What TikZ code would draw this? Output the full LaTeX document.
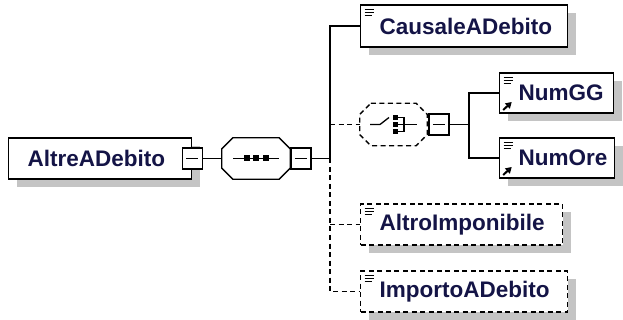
\documentclass[tikz,border=0pt]{standalone}
\usepackage{fontspec}
\setmainfont{Liberation Sans}
\usepackage{tikz}
\usetikzlibrary{calc,arrows.meta,positioning,shadows}
\definecolor{navyx}{HTML}{141446}
\definecolor{shadowx}{HTML}{C4C4C4}
\newcommand{\docicon}{\foreach \d/\l in {4pt/9pt,7pt/9pt,10pt/7pt}{\draw[solid,line width=0.9pt] ([xshift=4pt,yshift=-\d]path picture bounding box.north west) -- ++(\l,0);}}
\newcommand{\refarrow}{\draw[solid,line width=2pt,-{Triangle[length=6pt,width=7pt]}] ([xshift=3.5pt,yshift=3pt]path picture bounding box.south west) -- ++(8.5pt,8pt);}
% octagon round a named node: #1 draw options, #2 node
\newcommand{\octo}[2][]{%
  \fill[shadowx,shift={(8,8)}] ($(#2.north west)+(11,0)$) -- ($(#2.north east)+(-11,0)$) -- ($(#2.north east)+(0,11)$) -- ($(#2.south east)+(0,-11)$) -- ($(#2.south east)+(-11,0)$) -- ($(#2.south west)+(11,0)$) -- ($(#2.south west)+(0,-11)$) -- ($(#2.north west)+(0,11)$) -- cycle;
  \draw[fill=white,line width=1.3pt,#1] ($(#2.north west)+(11,0)$) -- ($(#2.north east)+(-11,0)$) -- ($(#2.north east)+(0,11)$) -- ($(#2.south east)+(0,-11)$) -- ($(#2.south east)+(-11,0)$) -- ($(#2.south west)+(11,0)$) -- ($(#2.south west)+(0,-11)$) -- ($(#2.north west)+(0,11)$) -- cycle;}
\tikzset{
  con/.style={line width=1.3pt},
  dsh/.style={line width=1.3pt,dash pattern=on 5pt off 3.5pt},
  shd/.style={drop shadow={shadow xshift=8pt,shadow yshift=-8pt,fill=shadowx,opacity=1}},
  box/.style={draw,line width=1.4pt,fill=white,shd,anchor=west,minimum height=41pt,inner xsep=0pt,inner ysep=0pt,
    align=left,text=navyx,font=\fontsize{22.5}{27}\selectfont\bfseries,execute at begin node={\hspace*{19pt}}},
  elem/.style={box,path picture={\docicon}},
  refelem/.style={box,path picture={\docicon\refarrow}},
  minus/.style={draw,line width=1.3pt,fill=white,minimum width=20pt,minimum height=21pt,inner sep=0pt,
    path picture={\draw[solid,line width=1.3pt] ([xshift=4pt]path picture bounding box.west) -- ([xshift=-4pt]path picture bounding box.east);}},
  comp/.style={rectangle,minimum width=68pt,minimum height=41pt,inner sep=0pt}
}

\begin{document}
\begin{tikzpicture}[x=1pt,y=-1pt]
\useasboundingbox (0,0) rectangle (623,320);
% root and sequence
\node[box,text width=183pt] (altre) at (8,158.5) {AltreADebito};
\node[minus] (m1) at (altre.east) {};
\node[comp] (seq) at (256,158.5) {};
\octo{seq}
\node[minus,anchor=west] (m2) at (seq.east) {};
\draw[con] ($(seq)+(-23,0)$) -- ($(seq)+(23,0)$);
\foreach \d in {-9.5,0,9.5}{\fill ($(seq)+(\d,0)$) +(-3,-3) rectangle +(3,3);}
% children
\node[elem,text width=207pt,minimum height=42pt] (caus) at (360,26) {CausaleADebito};
\node[comp,minimum width=67pt,minimum height=42pt] (choice) at (393.5,124.5) {};
\octo[dsh]{choice}
\node[minus,anchor=west] (m3) at ([xshift=1pt]choice.east) {};
\draw[con] ($(choice)+(-23.5,0)$) -- ++(10,0) -- ++(9,-7);
\foreach \d in {-7,0,7}{\fill ($(choice)+(2,\d)$) +(-2.5,-2.5) rectangle +(2.5,2.5);}
\draw[con] ($(choice)+(4.5,-7)$) -| ($(choice)+(10.5,7)$) -- ($(choice)+(4.5,7)$);
\draw[con] ($(choice)+(4.5,0)$) -- ($(choice)+(23.5,0)$);
\node[refelem,text width=114pt,minimum height=40pt] (numgg) at (499,93) {NumGG};
\node[refelem,text width=115pt,minimum height=40pt] (numore) at (499,158) {NumOre};
\node[elem,dsh,text width=202pt] (altro) at (360,224.5) {AltroImponibile};
\node[elem,dsh,text width=207pt] (importo) at (360,291.5) {ImportoADebito};
% connectors
\coordinate (j) at (330,158.5);
\coordinate (k) at (469,124.5);
\draw[con] (m1.east) -- (seq.west);
\draw[con] (m2.east) -- (j) |- (caus.west);
\draw[dsh] (j) |- (importo.west);
\draw[dsh] (j |- altro.west) -- (altro.west);
\draw[dsh] (j |- choice.west) -- (choice.west);
\draw[con] (m3.east) -- (k);
\draw[con] (numgg.west) -| (k) |- (numore.west);
\end{tikzpicture}
\end{document}
